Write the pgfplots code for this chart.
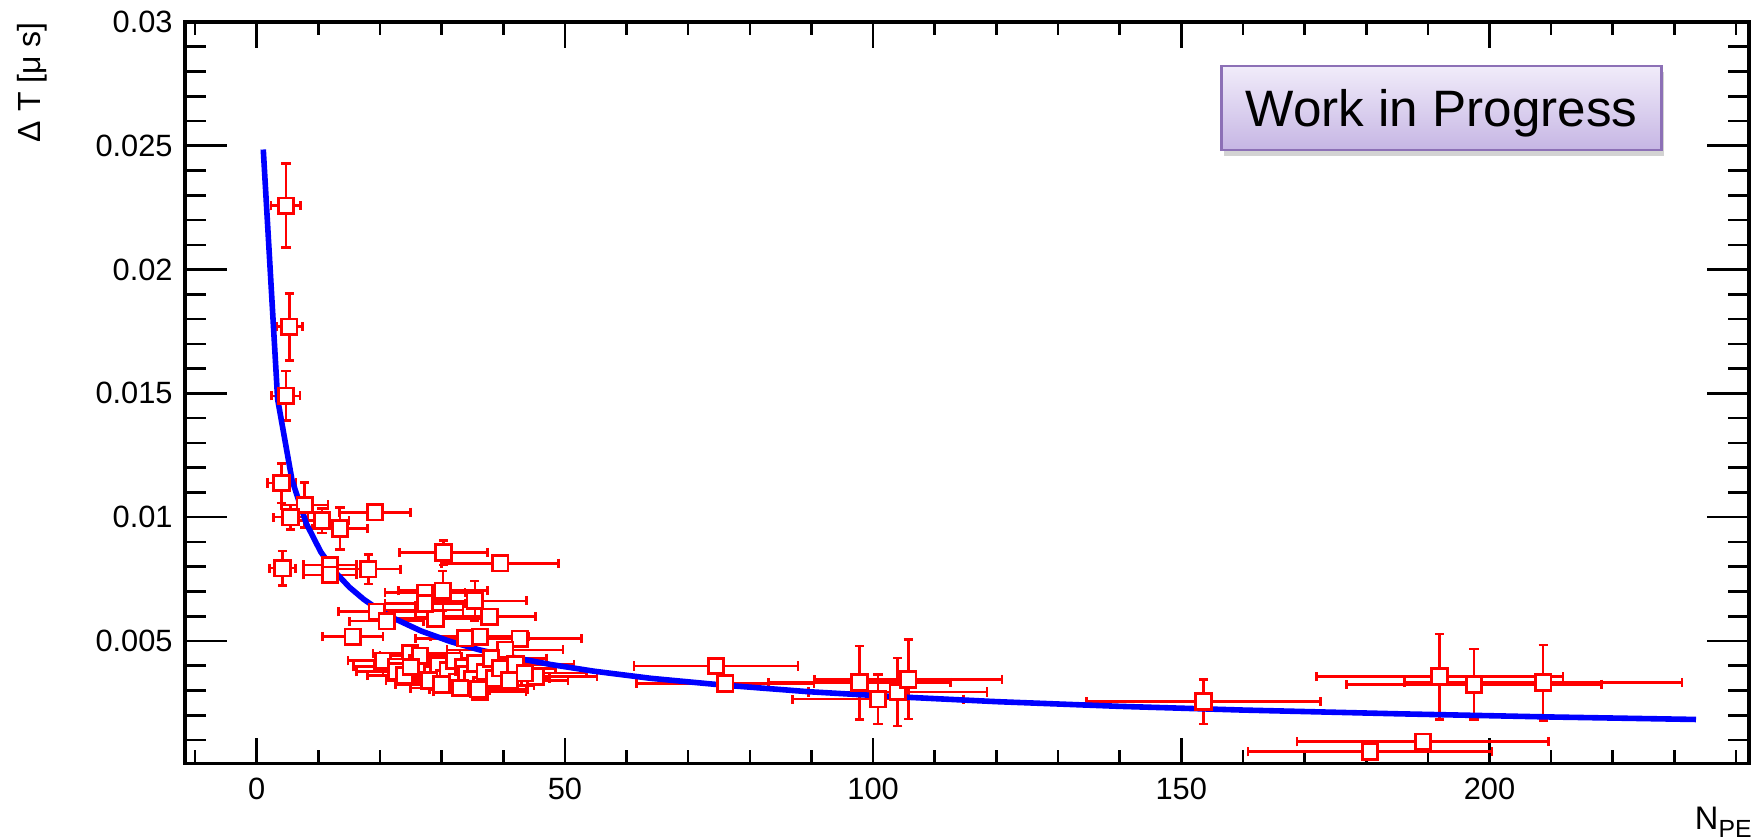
\documentclass[border=0pt]{standalone}
\usepackage{fontspec}
\setmainfont{Liberation Sans}
\usepackage{pgfplots}
\pgfplotsset{compat=1.18}
\usepackage{pgfplotstable}
\usetikzlibrary{shadows}

\definecolor{rootred}{RGB}{255,0,0}
\definecolor{rootblue}{RGB}{0,0,255}
\definecolor{wipborder}{RGB}{140,112,182}
\definecolor{wiptop}{RGB}{241,236,250}
\definecolor{wipbot}{RGB}{198,182,228}

\pgfplotstableread{
x y ex ey
4.75 0.02258 2.4 0.0017
5.29 0.01769 2.1 0.00135
4.75 0.01490 2.3 0.0010
4.05 0.01138 2.3 0.0008
7.8 0.01049 3.8 0.0009
5.5 0.01000 2.8 0.0005
10.6 0.00986 4.4 0.0005
13.5 0.00954 4.5 0.00084
19.2 0.01020 5.8 0.0001
4.2 0.00794 2.1 0.0007
11.9 0.00807 4.3 0.0002
11.9 0.00767 4.3 0.0002
18.1 0.00790 5.2 0.0006
30.3 0.00857 7.1 0.0005
39.5 0.00814 9.5 0.0001
27.3 0.00695 6.5 0.0003
30.2 0.00703 7.2 0.0008
35.4 0.00662 8.4 0.0008
37.8 0.00598 7.4 0.0003
27.0 0.00625 6.5 0.0003
29.0 0.00590 7.6 0.0003
27.3 0.00652 6.5 0.0003
19.5 0.00618 6.2 0.0003
21.1 0.00580 6.0 0.0003
15.6 0.00517 4.9 0.0002
36.2 0.00517 8.0 0.0003
33.8 0.00511 8.0 0.0003
42.7 0.00509 10.0 0.0002
40.3 0.00464 9.4 0.0002
24.9 0.00450 6.0 0.0002
20.5 0.00420 5.7 0.0002
22.7 0.00396 7.0 0.0002
22.7 0.00376 6.5 0.0002
45.2 0.00356 10.0 0.0002
36.2 0.00295 7.5 0.0002
26.0 0.00410 6.5 0.0002
27.5 0.00385 7.0 0.0002
28.5 0.00365 7.0 0.0002
29.5 0.00400 7.5 0.0002
30.5 0.00350 7.0 0.0002
31.0 0.00380 8.0 0.0002
32.0 0.00420 8.0 0.0002
32.5 0.00335 7.5 0.0002
33.5 0.00395 8.0 0.0002
34.0 0.00365 8.5 0.0002
35.0 0.00345 8.0 0.0002
35.5 0.00410 8.5 0.0002
36.5 0.00320 8.5 0.0002
37.0 0.00375 9.0 0.0002
38.0 0.00430 9.0 0.0002
38.5 0.00350 9.0 0.0002
39.5 0.00390 9.0 0.0002
41.0 0.00340 9.5 0.0002
42.0 0.00405 9.5 0.0002
43.5 0.00370 10.0 0.0002
26.5 0.00440 6.5 0.0002
28.0 0.00340 7.0 0.0002
30.0 0.00325 7.5 0.0002
33.0 0.00310 8.0 0.0002
36.0 0.00305 8.0 0.0002
24.0 0.00360 6.0 0.0002
25.0 0.00395 6.0 0.0002
74.5 0.00399 13.3 0.0001
76.0 0.00329 14.4 0.0001
97.8 0.00332 14.8 0.00148
100.8 0.00265 13.9 0.0010
104.0 0.00294 14.5 0.00137
105.7 0.00345 15.2 0.0016
153.6 0.00255 19.0 0.0009
191.9 0.00356 20.0 0.00172
197.5 0.00325 20.7 0.00142
208.7 0.00332 22.5 0.00152
189.2 0.00093 20.4 0.00005
180.6 0.00053 19.8 0.00005
}\datatable

\pgfplotstableread{
x y
1.07 0.02485
3.40 0.01476
5.73 0.01150
8.06 0.00974
10.39 0.00860
12.72 0.00779
15.05 0.00717
17.38 0.00668
19.71 0.00628
22.04 0.00594
26.7 0.00540
31.4 0.00498
36.0 0.00465
40.7 0.00438
47.7 0.00405
54.7 0.00378
64.0 0.00349
75.6 0.00322
89.6 0.00295
103.6 0.00275
120.0 0.00255
140.0 0.00236
160.0 0.00221
185.0 0.00206
210.0 0.00193
233.5 0.00183
}\fittable

\begin{document}
\begin{tikzpicture}
\useasboundingbox (0,0) rectangle (876pt,420pt);
\begin{axis}[
  at={(92.5pt,38.35pt)}, anchor=south west,
  scale only axis, width=782pt, height=370.65pt,
  xmin=-11.63, xmax=242.1, ymin=0.00006, ymax=0.03,
  xtick={0,50,100,150,200}, xticklabels={0,50,100,150,200},
  minor xtick={-10,10,20,30,40,60,70,80,90,110,120,130,140,160,170,180,190,210,220,230,240},
  ytick={0.005,0.01,0.015,0.02,0.025,0.03},
  yticklabels={0.005,0.01,0.015,0.02,0.025,0.03},
  minor ytick={0.001,0.002,0.003,0.004,0.006,0.007,0.008,0.009,0.011,0.012,0.013,0.014,0.016,0.017,0.018,0.019,0.021,0.022,0.023,0.024,0.026,0.027,0.028,0.029},
  tick align=inside,
  axis line style={line width=1.6pt},
  tick style={line width=1.3pt, black},
  xtick style={/pgfplots/major tick length=12.8pt, /pgfplots/minor tick length=6.4pt},
  ytick style={/pgfplots/major tick length=20.8pt, /pgfplots/minor tick length=10.4pt},
  ticklabel style={font=\fontsize{15.4}{18}\selectfont},
  xticklabel style={inner sep=0pt, yshift=-7.3pt},
  yticklabel style={inner sep=0pt, xshift=-6pt},
  clip=false,
  /pgf/number format/assume math mode=true,
]
\addplot[only marks, mark=square*, mark size=3.9pt,
  mark options={draw=rootred, fill=white, line width=1.4pt},
  error bars/.cd,
    x dir=both, x explicit, y dir=both, y explicit,
    error mark=-,
    error bar style={line width=1.3pt, rootred},
    error mark options={rotate=90, rootred, line width=1.3pt, mark size=2.3pt}]
  table[x=x, y=y, x error=ex, y error=ey] {\datatable};
\addplot[rootblue, line width=2.8pt, no marks] table[x=x, y=y] {\fittable};
\end{axis}
\node[draw=wipborder, line width=1.2pt, top color=wiptop, bottom color=wipbot,
  minimum width=220pt, minimum height=42pt, inner sep=0pt, text depth=0pt,
  font=\fontsize{25.6}{30}\selectfont,
  drop shadow={shadow xshift=1pt, shadow yshift=-3pt, opacity=0.35}]
  at (720.8pt,366.1pt) {Work in Progress};
\node[rotate=90, anchor=base east, inner sep=0pt, font=\fontsize{16}{19}\selectfont]
  at (20pt,409pt) {Δ T [μ s]};
\node[anchor=base east, inner sep=0pt, font=\fontsize{16.3}{19}\selectfont]
  at (876pt,5pt) {N\raisebox{-4pt}{\fontsize{12.4}{14}\selectfont PE}};
\end{tikzpicture}
\end{document}
